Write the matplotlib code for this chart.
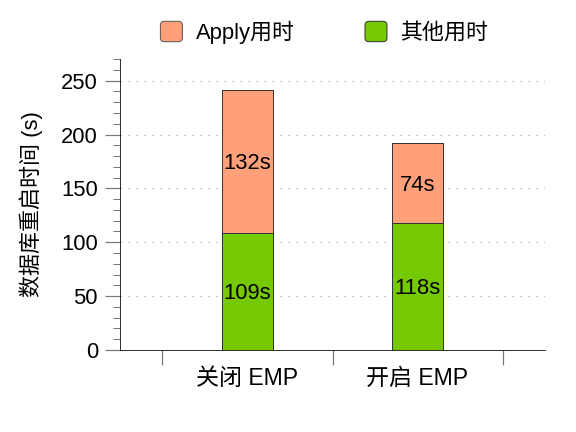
import matplotlib
matplotlib.use("Agg")
import matplotlib.pyplot as plt
from matplotlib.patches import FancyBboxPatch
from matplotlib.legend_handler import HandlerPatch
from matplotlib.ticker import MultipleLocator, FixedLocator

plt.rcParams['font.family'] = ['Liberation Sans', 'Noto Sans CJK SC', 'DejaVu Sans']

categories = ["关闭 EMP", "开启 EMP"]
other_time = [109, 118]
apply_time = [132, 74]
series_names = ["Apply用时", "其他用时"]
apply_color = "#FFA07A"
other_color = "#76C800"

fig = plt.figure(figsize=(8, 6), dpi=72)
ax = fig.add_axes([0.2083, 0.19, 0.738, 0.673])

x = list(range(len(categories)))
w = 0.3
ax.bar(x, other_time, width=w, color=other_color, edgecolor="#333333", linewidth=1, zorder=3)
ax.bar(x, apply_time, width=w, bottom=other_time, color=apply_color, edgecolor="#333333",
       linewidth=1, zorder=3)

for i in x:
    ax.text(i, other_time[i] / 2, f"{other_time[i]}s", ha="center", va="center_baseline",
            fontsize=22, zorder=4)
    ax.text(i, other_time[i] + apply_time[i] / 2, f"{apply_time[i]}s", ha="center",
            va="center_baseline", fontsize=22, zorder=4)

ax.set_xlim(-0.75, 1.75)
ax.set_ylim(0, 270)
ax.set_xticks(x)
ax.set_xticklabels(categories, fontsize=23)
ax.xaxis.set_minor_locator(FixedLocator([-0.5, 0.5, 1.5]))
ax.tick_params(axis="x", which="major", length=0, pad=17)
ax.tick_params(axis="x", which="minor", length=15, color="#777777", width=1.2)

ax.yaxis.set_major_locator(MultipleLocator(50))
ax.yaxis.set_minor_locator(MultipleLocator(10))
ax.tick_params(axis="y", which="major", length=15, color="#777777", width=1.2, labelsize=22, pad=7)
ax.tick_params(axis="y", which="minor", length=7, color="#777777", width=1)
ax.set_ylabel("数据库重启时间 (s)", fontsize=22, labelpad=18)

ax.grid(axis="y", which="major", linestyle=(0, (1, 7)), color="#888888", linewidth=1, zorder=0)
ax.spines["top"].set_visible(False)
ax.spines["right"].set_visible(False)


def rounded_box(legend, orig_handle, xdescent, ydescent, width, height, fontsize):
    return FancyBboxPatch((-xdescent, -ydescent), width, height,
                          boxstyle="round,pad=0,rounding_size=4")


h1 = FancyBboxPatch((0, 0), 1, 1, facecolor=apply_color, edgecolor="#555555")
h2 = FancyBboxPatch((0, 0), 1, 1, facecolor=other_color, edgecolor="#333333")
fig.legend([h1, h2], series_names, loc="center", bbox_to_anchor=(0.563, 0.925), ncol=2,
           frameon=False, fontsize=22, handlelength=1.0, handleheight=1.05, handletextpad=0.6,
           columnspacing=3.2,
           handler_map={FancyBboxPatch: HandlerPatch(patch_func=rounded_box)})

fig.savefig("out.png", dpi=72)
